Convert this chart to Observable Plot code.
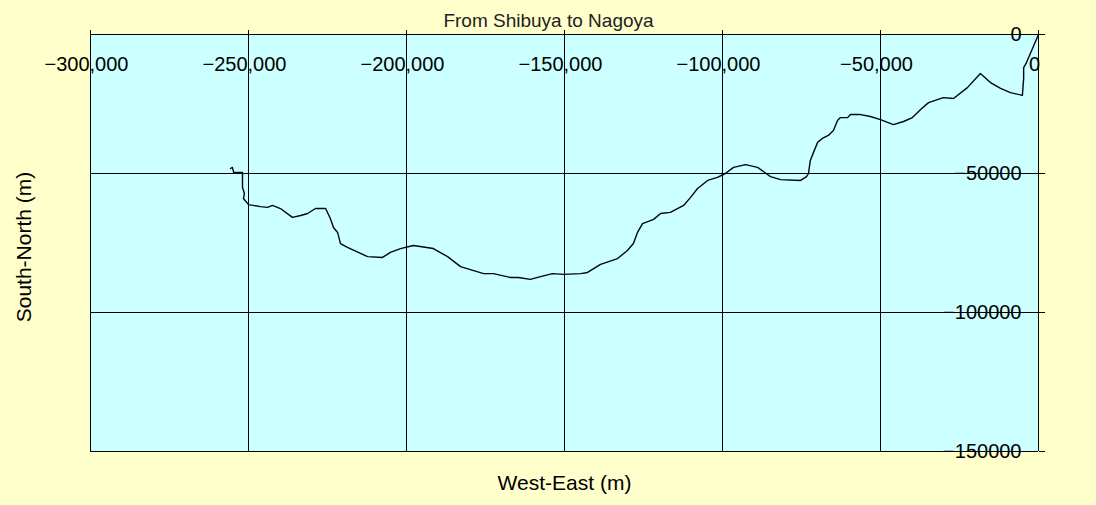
<!DOCTYPE html>
<html>
<head>
<meta charset="utf-8">
<script src="https://cdn.jsdelivr.net/npm/d3@7"></script>
<script src="https://cdn.jsdelivr.net/npm/@observablehq/plot@0.6"></script>
<style>
  html, body { margin: 0; padding: 0; background: #ffffcc; overflow: hidden; }
  #chart svg { display: block; }
</style>
</head>
<body>
<div id="chart"></div>
<script>
const title = "From Shibuya to Nagoya";
const xLabel = "West-East (m)";
const yLabel = "South-North (m)";
const xTicks = [-300000, -250000, -200000, -150000, -100000, -50000, 0];
const yTicks = [0, -50000, -100000, -150000];

// Route from Nagoya (west) to Shibuya (origin), metres
const routeX = [-255700, -255100, -254700, -251900, -251900, -251300, -251600, -250000, -246200, -244000,
  -242400, -239900, -236100, -233500, -231300, -228800, -225600, -224100, -223100, -221800,
  -220900, -218700, -212300, -207600, -205100, -201900, -197800, -191500, -187000, -182900,
  -175600, -172500, -167100, -164600, -160800, -157600, -153800, -150300, -144900, -142700,
  -138600, -133200, -130100, -128200, -126900, -125300, -121800, -119600, -116500, -112300,
  -110100, -107900, -104700, -101600, -99100, -96500, -92700, -88900, -84800, -81600,
  -75300, -73400, -72800, -72200, -71200, -69900, -68400, -66500, -64900, -63600,
  -62700, -60400, -59500, -56300, -53200, -50000, -45900, -42700, -39900, -37300,
  -34800, -30100, -26900, -22500, -18400, -15200, -12000, -8900, -5100, -4700,
  -4700, -3800, -1900, 0];
const routeY = [-48200, -47800, -49600, -49600, -55000, -57200, -59000, -61200, -61900, -62200,
  -61500, -62600, -65800, -65100, -64400, -62600, -62600, -66200, -69400, -71200,
  -75200, -76600, -79900, -80200, -78400, -77000, -75900, -77000, -79900, -83500,
  -86000, -86000, -87400, -87400, -88100, -87100, -86000, -86300, -86000, -85600,
  -82700, -80600, -77700, -75200, -71200, -68000, -66500, -64400, -64000, -61500,
  -58600, -55400, -52500, -51400, -50000, -47800, -46800, -47800, -51100, -52200,
  -52500, -51100, -50000, -45300, -42400, -38800, -37400, -36300, -34500, -30900,
  -29900, -29900, -28800, -28800, -29500, -30600, -32400, -31300, -29900, -27000,
  -24500, -22700, -23000, -19100, -14000, -17300, -19400, -20900, -21900, -15800,
  -11900, -10100, -5000, 0];

const route = routeX.map((x, i) => ({x, y: routeY[i]}));

const chart = Plot.plot({
  width: 1096,
  height: 505,
  marginLeft: 90,
  marginRight: 58,
  marginTop: 34,
  marginBottom: 54,
  x: {domain: [-300000, 0]},
  y: {domain: [-150000, 0]},
  style: {background: "#ffffcc", fontFamily: "'Liberation Sans', Arial, sans-serif", fontSize: "20px", color: "black"},
  marks: [
    Plot.frame({fill: "#ccffff", stroke: null}),
    Plot.gridX(xTicks, {stroke: "black", strokeOpacity: 1, strokeWidth: 1}),
    Plot.gridY(yTicks, {stroke: "black", strokeOpacity: 1, strokeWidth: 1}),
    Plot.axisX(xTicks, {anchor: "top", tickSize: 5, tickFormat: () => "", label: null}),
    Plot.axisX(xTicks, {anchor: "top", tickSize: 0, tickPadding: -30, lineAnchor: "middle", dx: -4,
      tickFormat: d3.format(","), label: null, fontSize: 20}),
    Plot.axisY(yTicks, {anchor: "right", tickSize: 6, tickFormat: () => "", label: null}),
    Plot.axisY(yTicks, {anchor: "right", tickSize: 0, tickPadding: -17, textAnchor: "end",
      tickFormat: d3.format("d"), label: null, fontSize: 20}),
    Plot.line(route, {x: "x", y: "y", stroke: "#000022", strokeWidth: 1.4}),
    Plot.text([title], {frameAnchor: "top", lineAnchor: "middle", textAnchor: "middle", dx: -16, dy: -14, fontSize: 19, fill: "#222"}),
    Plot.text([xLabel], {frameAnchor: "bottom", lineAnchor: "middle", textAnchor: "middle", dy: 32, fontSize: 21, fill: "black"}),
    Plot.text([yLabel], {frameAnchor: "left", lineAnchor: "middle", textAnchor: "middle", dx: -66, dy: 4, rotate: -90, fontSize: 21, fill: "black"})
  ]
});
document.getElementById("chart").append(chart);
</script>
</body>
</html>
